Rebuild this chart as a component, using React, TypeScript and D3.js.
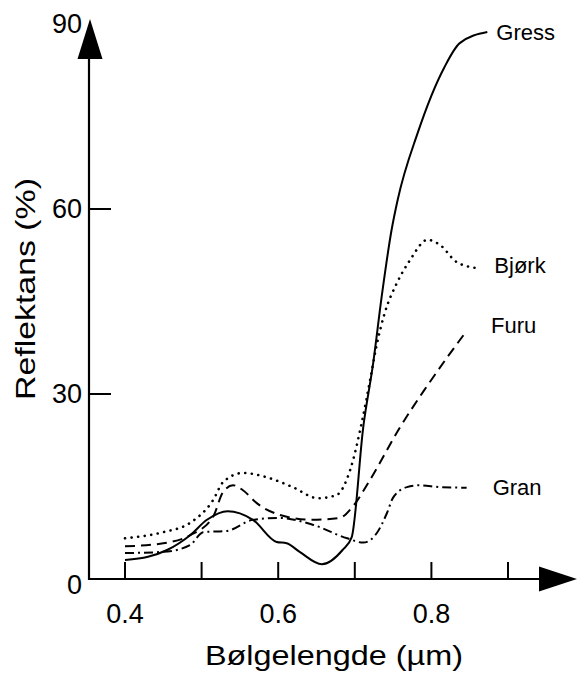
import * as d3 from "d3";
import React from "react";

// wavelength (µm) / reflectance (%)
const gress: [number, number][] = [
  [0.4, 3.1], [0.43, 3.6], [0.455, 4.7], [0.485, 7.1], [0.507, 9.6], [0.534, 11.0],
  [0.567, 9.6], [0.598, 6.0], [0.611, 5.8], [0.628, 4.4], [0.657, 2.4], [0.684, 4.7],
  [0.696, 6.8], [0.711, 24.6], [0.724, 35.0], [0.735, 45.7], [0.748, 56.6], [0.756, 61.5],
  [0.782, 72.3], [0.817, 83.0], [0.837, 86.9], [0.873, 88.7],
];
const bjork: [number, number][] = [
  [0.4, 6.6], [0.45, 7.6], [0.485, 9.1], [0.515, 12.8], [0.528, 15.7], [0.554, 17.2],
  [0.585, 16.5], [0.619, 14.9], [0.652, 13.1], [0.676, 13.6], [0.694, 17.7], [0.709, 25.3],
  [0.72, 32.3], [0.728, 37.6], [0.739, 43.1], [0.755, 48.0], [0.772, 51.7], [0.795, 55.0],
  [0.811, 54.2], [0.833, 51.4], [0.86, 50.4],
];
const furu: [number, number][] = [
  [0.4, 5.3], [0.45, 5.8], [0.485, 7.1], [0.515, 10.1], [0.528, 14.1], [0.541, 15.2],
  [0.554, 14.4], [0.572, 12.3], [0.602, 10.4], [0.645, 9.6], [0.68, 9.9], [0.697, 11.7],
  [0.72, 16.1], [0.759, 24.6], [0.79, 30.5], [0.821, 36.0], [0.844, 39.9],
];
const gran: [number, number][] = [
  [0.4, 4.2], [0.45, 4.4], [0.485, 5.5], [0.502, 7.6], [0.533, 7.8], [0.567, 9.6],
  [0.602, 9.9], [0.645, 8.8], [0.69, 6.6], [0.711, 5.9], [0.729, 7.5], [0.742, 10.7],
  [0.75, 13.2], [0.768, 14.9], [0.785, 15.2], [0.811, 14.9], [0.846, 14.8],
];

const xTicks = [0.4, 0.5, 0.6, 0.7, 0.8, 0.9];
const xTickLabels = [0.4, 0.6, 0.8];
const yTicks = [30, 60];
const yTickLabels = [0, 30, 60, 90];

const series = [
  { name: "Gress", data: gress, dash: "none" },
  { name: "Bjørk", data: bjork, dash: "0.1 6.5" },
  { name: "Furu", data: furu, dash: "10 6" },
  { name: "Gran", data: gran, dash: "9 4 2 4" },
];

const width = 577;
const height = 678;
const font = "'Liberation Sans', Arial, Helvetica, sans-serif";

// plot frame: x axis from 0.352 to the arrow tip, y from 0 to the arrow tip
const x = d3.scaleLinear().domain([0.4, 0.9]).range([125, 508]);
const y = d3.scaleLinear().domain([0, 60]).range([579, 209]);

const App = () => {
  const line = d3
    .line<[number, number]>()
    .x((d) => x(d[0]))
    .y((d) => y(d[1]))
    .curve(d3.curveMonotoneX);

  const x0 = 89;
  const y0 = y(0);
  const xTip = 577;
  const yTip = 19;
  const arrowLen = 38;
  const arrowHalf = 12.5;

  return (
    <svg
      width={width}
      height={height}
      style={{ position: "absolute", left: 0, top: 0, background: "#fff" }}
      fontFamily={font}
    >
      {/* axes */}
      <line x1={x0} x2={xTip - 10} y1={y0} y2={y0} stroke="#000" strokeWidth={2.2} />
      <line x1={x0} x2={x0} y1={y0 + 1} y2={yTip + 10} stroke="#000" strokeWidth={2.2} />
      <path
        d={`M${xTip},${y0} L${xTip - arrowLen},${y0 - arrowHalf} L${xTip - arrowLen},${y0 + arrowHalf} Z`}
        fill="#000"
      />
      <path
        d={`M${x0 + 1},${yTip} L${x0 + 1 - arrowHalf},${yTip + arrowLen + 2} L${x0 + 1 + arrowHalf},${yTip + arrowLen + 2} Z`}
        fill="#000"
      />

      {/* ticks */}
      {xTicks.map((t) => (
        <line key={t} x1={x(t)} x2={x(t)} y1={y0} y2={y0 - 17} stroke="#000" strokeWidth={2} />
      ))}
      {yTicks.map((t) => (
        <line key={t} x1={x0} x2={x0 + 22} y1={y(t)} y2={y(t)} stroke="#000" strokeWidth={2} />
      ))}

      {xTickLabels.map((t) => (
        <text key={t} x={x(t)} y={623} textAnchor="middle" fontSize={27}>
          {t.toFixed(1)}
        </text>
      ))}
      {yTickLabels.map((t) => (
        <text
          key={t}
          x={82}
          y={y(t) + (t === 0 ? 6 : 0)}
          textAnchor="end"
          dominantBaseline="central"
          fontSize={27}
        >
          {t}
        </text>
      ))}

      {/* axis titles */}
      <text x={205} y={665} fontSize={28} textLength={258} lengthAdjust="spacingAndGlyphs">
        Bølgelengde (µm)
      </text>
      <text
        transform="translate(35,289) rotate(-90)"
        textAnchor="middle"
        fontSize={28}
        textLength={222}
        lengthAdjust="spacingAndGlyphs"
      >
        Reflektans (%)
      </text>

      {/* curves */}
      {series.map((s) => (
        <path
          key={s.name}
          d={line(s.data) ?? ""}
          fill="none"
          stroke="#000"
          strokeWidth={s.name === "Bjørk" ? 2.6 : 2}
          strokeDasharray={s.dash}
          strokeLinecap={s.name === "Bjørk" ? "round" : "butt"}
        />
      ))}

      {/* curve labels */}
      {series.map((s) => {
        const last = s.data[s.data.length - 1];
        return (
          <text
            key={s.name}
            x={x(last[0]) + (s.name === "Gress" ? 9 : s.name === "Bjørk" ? 17 : 26)}
            y={y(last[1]) + (s.name === "Bjørk" ? -3 : s.name === "Furu" ? -7 : 0)}
            dominantBaseline="central"
            fontSize={22}
          >
            {s.name}
          </text>
        );
      })}
    </svg>
  );
};

export default App;
